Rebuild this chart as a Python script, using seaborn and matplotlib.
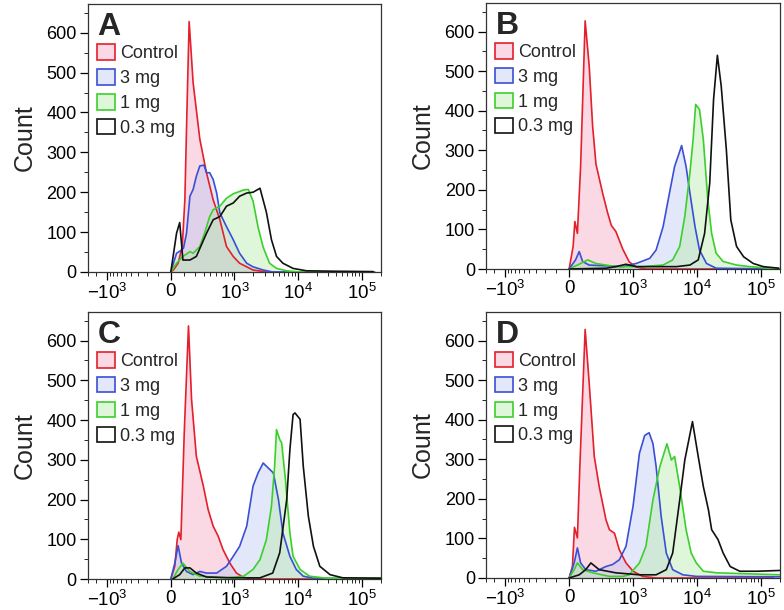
import numpy as np
import matplotlib
matplotlib.use('Agg')
import matplotlib.pyplot as plt
from matplotlib.patches import Patch
from matplotlib.ticker import FixedLocator, MultipleLocator
import seaborn as sns

# sample names / colours
samples = ['Control', '3 mg', '1 mg', '0.3 mg']
line_colors = ['#e3202b', '#3a4fd6', '#3ccf2c', '#111111']
fill_colors = ['#f4a6c3', '#bcc7f2', '#b5eaab', None]
panel_letters = ['A', 'B', 'C', 'D']

count_ticks = [0, 100, 200, 300, 400, 500, 600]
fl_ticks = [-1000, 0, 1000, 10000, 100000]
fl_tick_labels = [r'$\mathregular{-10^3}$', '0', r'$\mathregular{10^3}$',
                  r'$\mathregular{10^4}$', r'$\mathregular{10^5}$']

# ---- panel A ----
A_ctrl_x = [0, 19, 54, 86, 107, 127, 144, 181, 253, 339, 445, 578, 742, 954, 1206, 1970, 3194, 160000]
A_ctrl_y = [0, 5, 22, 64, 181, 434, 628, 475, 333, 249, 181, 131, 64, 39, 22, 5, 0, 0]
A_3mg_x = [0, 42, 81, 96, 121, 151, 181, 214, 253, 304, 339, 387, 445, 511, 578, 742, 954, 1206, 1564, 1970, 2846, 4021, 160000]
A_3mg_y = [0, 47, 55, 60, 97, 190, 207, 240, 266, 268, 249, 249, 232, 198, 148, 114, 81, 47, 22, 13, 5, 0, 0]
A_1mg_x = [0, 42, 91, 151, 181, 253, 312, 387, 445, 578, 742, 954, 1206, 1421, 1657, 1970, 2367, 2846, 3584, 4616, 6673, 10822, 160000]
A_1mg_y = [0, 22, 39, 51, 47, 64, 97, 139, 156, 165, 185, 196, 202, 206, 207, 178, 112, 62, 22, 9, 3, 0, 0]
A_03mg_x = [0, 42, 66, 91, 151, 214, 339, 445, 578, 742, 954, 1206, 1564, 1970, 2537, 3194, 3840, 4616, 5812, 8401, 13625, 35835, 152870]
A_03mg_y = [0, 97, 124, 30, 30, 39, 97, 131, 139, 165, 173, 190, 198, 200, 210, 150, 81, 39, 22, 9, 3, 2, 1]

# ---- panel B ----
B_ctrl_x = [0, 29, 42, 61, 86, 123, 159, 192, 227, 307, 377, 440, 524, 684, 868, 1124, 1601, 160000]
B_ctrl_y = [0, 57, 120, 90, 260, 627, 513, 361, 265, 192, 143, 110, 95, 50, 18, 5, 0, 0]
B_3mg_x = [0, 47, 75, 102, 157, 684, 1124, 1838, 2314, 2981, 3752, 4512, 5424, 5812, 6828, 7840, 9423, 11070, 14266, 20151, 201500]
B_3mg_y = [0, 23, 44, 19, 10, 6, 14, 27, 48, 107, 192, 259, 297, 312, 259, 192, 107, 48, 14, 2, 0]
B_1mg_x = [0, 86, 145, 227, 524, 1421, 2981, 4211, 5424, 6521, 7840, 8797, 9646, 11070, 12714, 14938, 17151, 20151, 25958, 42107, 68285, 139400, 201500]
B_1mg_y = [0, 14, 23, 14, 6, 6, 10, 23, 57, 133, 243, 327, 416, 403, 327, 175, 90, 40, 19, 10, 6, 2, 1]
B_03mg_x = [0, 357, 524, 771, 1124, 1838, 4834, 7840, 10575, 13312, 16007, 18382, 21100, 24230, 29128, 34222, 42107, 54237, 76619, 110700, 192400]
B_03mg_y = [0, 2, 6, 12, 6, 6, 6, 10, 23, 90, 217, 428, 540, 462, 302, 124, 57, 31, 14, 6, 2]

# ---- panel C ----
C_ctrl_x = [0, 29, 47, 59, 75, 102, 138, 166, 214, 296, 363, 445, 541, 652, 842, 1073, 1394, 1970, 160000]
C_ctrl_y = [0, 32, 99, 118, 99, 368, 637, 452, 309, 234, 175, 133, 108, 74, 40, 15, 4, 0, 0]
C_3mg_x = [0, 29, 54, 80, 121, 181, 253, 339, 511, 742, 954, 1206, 1564, 1970, 2367, 2846, 3194, 4115, 4947, 5812, 7487, 9423, 12140, 17554, 201500]
C_3mg_y = [0, 40, 84, 40, 19, 11, 19, 15, 15, 32, 57, 82, 133, 234, 267, 292, 284, 267, 200, 116, 57, 24, 7, 2, 1]
C_1mg_x = [14, 54, 91, 151, 253, 742, 1394, 1970, 2537, 3194, 3840, 4309, 4616, 5181, 5550, 6373, 7487, 8401, 10822, 15291, 28466, 201500]
C_1mg_y = [0, 24, 40, 19, 7, 3, 7, 24, 49, 99, 183, 284, 376, 351, 343, 250, 116, 57, 24, 7, 2, 2]
C_03mg_x = [14, 66, 107, 151, 214, 339, 954, 2537, 4021, 5181, 6673, 7487, 8401, 9002, 10822, 12140, 14595, 17554, 22099, 31939, 50621, 201500]
C_03mg_y = [0, 11, 28, 28, 15, 5, 3, 3, 15, 66, 200, 326, 414, 418, 402, 284, 158, 82, 32, 11, 3, 2]

# ---- panel D ----
D_ctrl_x = [0, 24, 39, 61, 80, 123, 159, 209, 264, 354, 407, 498, 600, 771, 1000, 1421, 2314, 160000]
D_ctrl_y = [0, 29, 128, 101, 282, 628, 492, 307, 231, 147, 122, 113, 71, 38, 17, 4, 0, 0]
D_3mg_x = [0, 37, 61, 86, 128, 227, 354, 462, 600, 771, 1000, 1263, 1529, 1796, 2062, 2314, 2782, 3344, 4211, 6086, 9868, 201500]
D_3mg_y = [0, 38, 76, 38, 21, 17, 29, 34, 46, 80, 181, 315, 360, 367, 340, 282, 155, 63, 21, 8, 4, 3]
D_1mg_x = [0, 37, 61, 102, 194, 407, 684, 868, 1263, 1601, 2062, 2657, 3422, 4021, 4512, 5424, 6828, 8209, 9868, 12714, 20624, 201500]
D_1mg_y = [0, 21, 38, 21, 13, 4, 4, 8, 38, 80, 197, 282, 339, 298, 307, 231, 122, 63, 38, 17, 13, 8]
D_03mg_x = [0, 75, 128, 175, 264, 524, 1263, 2314, 3344, 4211, 5424, 6521, 8595, 10575, 12714, 15291, 17151, 21594, 25958, 33441, 47238, 87971, 201500]
D_03mg_y = [0, 8, 21, 38, 21, 13, 8, 8, 21, 63, 197, 298, 395, 307, 231, 172, 122, 97, 63, 29, 17, 17, 19]

panels = [
    [(A_ctrl_x, A_ctrl_y), (A_3mg_x, A_3mg_y), (A_1mg_x, A_1mg_y), (A_03mg_x, A_03mg_y)],
    [(B_ctrl_x, B_ctrl_y), (B_3mg_x, B_3mg_y), (B_1mg_x, B_1mg_y), (B_03mg_x, B_03mg_y)],
    [(C_ctrl_x, C_ctrl_y), (C_3mg_x, C_3mg_y), (C_1mg_x, C_1mg_y), (C_03mg_x, C_03mg_y)],
    [(D_ctrl_x, D_ctrl_y), (D_3mg_x, D_3mg_y), (D_1mg_x, D_1mg_y), (D_03mg_x, D_03mg_y)],
]

# biexponential-like display (arcsinh)
W = 202.0
def fwd(x):
    return np.arcsinh(np.asarray(x, dtype=float) / W) / np.log(10)
def inv(p):
    return W * np.sinh(np.asarray(p, dtype=float) * np.log(10))

minor_x = [-2000, -1500] + [-k * 100 for k in range(1, 10)] + \
          [k * 100 for k in range(1, 10)] + [k * 1000 for k in range(2, 10)] + \
          [k * 10000 for k in range(2, 10)] + [200000]

sns.set_style('ticks')
plt.rcParams['font.family'] = ['Liberation Sans', 'DejaVu Sans']
plt.rcParams['mathtext.fontset'] = 'custom'
plt.rcParams['mathtext.rm'] = 'Liberation Sans'
plt.rcParams['mathtext.it'] = 'Liberation Sans:italic'

fig = plt.figure(figsize=(7.84, 6.10), dpi=100)
rects = [
    [0.1122, 0.5541, 0.3737, 0.4393],
    [0.6199, 0.5590, 0.3750, 0.4360],
    [0.1122, 0.0508, 0.3737, 0.4377],
    [0.6199, 0.0525, 0.3750, 0.4360],
]

for i, rect in enumerate(rects):
    ax = fig.add_axes(rect)
    series = panels[i]
    # fills first
    for j, (xs, ys) in enumerate(series):
        if fill_colors[j] is not None:
            ax.fill_between(xs, ys, 0, color=fill_colors[j], alpha=0.42, lw=0, zorder=1)
    for j, (xs, ys) in enumerate(series):
        sns.lineplot(x=xs, y=ys, ax=ax, color=line_colors[j], lw=1.2,
                     sort=False, estimator=None, legend=False, zorder=3 + j)

    ax.set_xscale('function', functions=(fwd, inv))
    ax.set_xlim(-2016, 201500)
    ax.set_ylim(0, 672)
    ax.set_xticks(fl_ticks)
    ax.set_xticklabels(fl_tick_labels)
    ax.xaxis.set_minor_locator(FixedLocator(minor_x))
    ax.set_yticks(count_ticks)
    ax.yaxis.set_minor_locator(MultipleLocator(50))
    ax.tick_params(axis='y', which='major', labelsize=13)
    ax.tick_params(axis='x', which='major', labelsize=13.5)
    ax.tick_params(axis='both', which='major', direction='out', length=6, width=0.9,
                   pad=2, colors='black')
    ax.tick_params(axis='both', which='minor', direction='out', length=3, width=0.7)
    for s in ax.spines.values():
        s.set_linewidth(0.9)
        s.set_color('#333333')
    ax.set_xlabel('')
    ax.set_ylabel('Count', fontsize=18, labelpad=7)

    ax.text(0.033, 0.884, panel_letters[i], transform=ax.transAxes,
            fontsize=23, fontweight='bold', va='baseline', ha='left')

    handles = [Patch(facecolor=(fill_colors[j] if fill_colors[j] else 'white'),
                     edgecolor=line_colors[j], linewidth=1.2) for j in range(4)]
    leg = ax.legend(handles, samples, loc='upper left', bbox_to_anchor=(0.03, 0.85),
                    frameon=False, fontsize=13, handlelength=1.0, handleheight=0.95,
                    handletextpad=0.3, labelspacing=0.38, borderpad=0, borderaxespad=0)
    for p, fc in zip(leg.get_patches(), fill_colors):
        if fc is not None:
            p.set_facecolor(matplotlib.colors.to_rgba(fc, 0.42))

fig.savefig('out.png', dpi=100)
